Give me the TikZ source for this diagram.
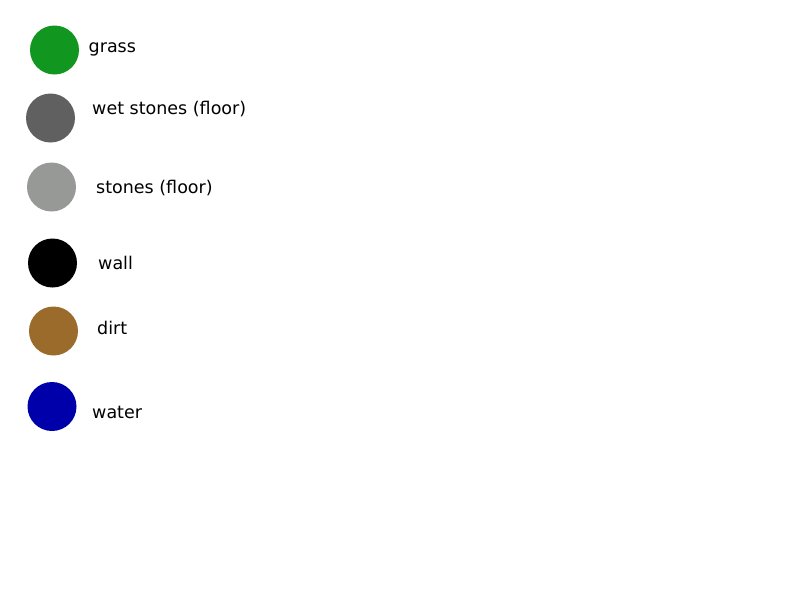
\documentclass[tikz,border=0pt]{standalone}
\usepackage{fontspec}
\setmainfont{DejaVu Sans}
\definecolor{GrassGreen}{HTML}{11961F}
\definecolor{WetStoneGray}{HTML}{606060}
\definecolor{StoneGray}{HTML}{979997}
\definecolor{WallBlack}{HTML}{000000}
\definecolor{DirtBrown}{HTML}{9A6B2B}
\definecolor{WaterBlue}{HTML}{0000AA}
\usetikzlibrary{positioning}

\begin{document}
\begin{tikzpicture}[x=1pt, y=-1pt,
  tiledot/.style={circle, inner sep=0pt, minimum size=49pt, draw=none},
  tilelbl/.style={anchor=base west, inner sep=0pt,
                  font=\fontsize{17.5}{20}\selectfont},
]
\useasboundingbox (0,0) rectangle (800,600);
% legend dots
\node[tiledot, fill=GrassGreen]   (grass)  at (54.5,50)  {};
\node[tiledot, fill=WetStoneGray] (wet)    at (50.5,118) {};
\node[tiledot, fill=StoneGray]    (stones) at (51.5,187) {};
\node[tiledot, fill=WallBlack]    (wall)   at (52.5,263) {};
\node[tiledot, fill=DirtBrown]    (dirt)   at (53.5,331) {};
\node[tiledot, fill=WaterBlue]    (water)  at (52,406.5) {};
% legend texts
\node[tilelbl] (grasslbl)  at (88.5,52.5) {grass};
\node[tilelbl] (wetlbl)    at (92,114.5)  {wet stones (floor)};
\node[tilelbl] (stoneslbl) at (96,193.5)  {stones (floor)};
\node[tilelbl] (walllbl)   at (98,269.5)  {wall};
\node[tilelbl] (dirtlbl)   at (97,334.5)  {dirt};
\node[tilelbl] (waterlbl)  at (92,418.5)  {water};
\end{tikzpicture}
\end{document}
